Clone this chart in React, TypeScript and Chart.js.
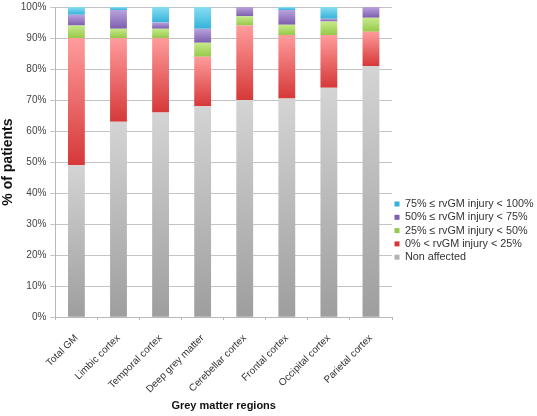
import React, { useEffect, useRef } from "react";
import { Chart, registerables } from "chart.js";

Chart.register(...registerables);

const categories = [
  "Total GM",
  "Limbic cortex",
  "Temporal cortex",
  "Deep grey matter",
  "Cerebellar cortex",
  "Frontal cortex",
  "Occipital cortex",
  "Parietal cortex",
];

const nonAffected = [49, 63, 66, 68, 70, 70.5, 74, 81];
const injury0to25 = [41, 27, 24, 16, 24, 20.5, 17, 11];
const injury25to50 = [4, 3, 3, 4.5, 3, 3.3, 4.3, 4.5];
const injury50to75 = [3.5, 6, 2, 4.5, 3, 4.7, 0.9, 3.5];
const injury75to100 = [2.5, 1, 5, 7, 0, 1, 3.8, 0];

const seriesLabels = [
  "Non affected",
  "0% < rvGM injury < 25%",
  "25% \u2264 rvGM injury < 50%",
  "50% \u2264 rvGM injury < 75%",
  "75% \u2264 rvGM injury < 100%",
];

const yTickValues = [0, 10, 20, 30, 40, 50, 60, 70, 80, 90, 100];

const seriesValues = [nonAffected, injury0to25, injury25to50, injury50to75, injury75to100];

// [top of segment, legend colour, bottom of segment]
const seriesColors = [
  ["#d4d4d4", "#a6a6a6", "#9e9e9e"],
  ["#ff9c9c", "#e04444", "#d63838"],
  ["#c6ea8a", "#a6d65a", "#96c84a"],
  ["#b9a2dd", "#8e6fbf", "#7d5dae"],
  ["#88def2", "#43bde0", "#35b2da"],
];

const FONT = "'Liberation Sans', Arial, Helvetica, sans-serif";

function makeFill(dsIndex: number) {
  return (ctx: any) => {
    const cols = seriesColors[dsIndex];
    if (ctx.type !== "data") return cols[1];
    const chart = ctx.chart;
    const y = chart.scales && chart.scales.y;
    if (!y || !chart.chartArea) return cols[1];
    const i = ctx.dataIndex;
    let start = 0;
    for (let k = 0; k < dsIndex; k++) start += seriesValues[k][i];
    const end = start + seriesValues[dsIndex][i];
    const yTop = y.getPixelForValue(end);
    const yBot = y.getPixelForValue(start);
    if (!isFinite(yTop) || !isFinite(yBot) || yTop === yBot) return cols[1];
    const g = chart.ctx.createLinearGradient(0, yTop, 0, yBot);
    g.addColorStop(0, cols[0]);
    g.addColorStop(1, cols[2]);
    return g;
  };
}

export default function App() {
  const ref = useRef<HTMLCanvasElement | null>(null);

  useEffect(() => {
    if (!ref.current) return;
    const chart = new Chart(ref.current, {
      type: "bar",
      data: {
        labels: categories,
        datasets: seriesValues.map((vals, k) => ({
          label: seriesLabels[k],
          data: vals,
          backgroundColor: makeFill(k),
          borderWidth: 0,
          barPercentage: 0.4,
          categoryPercentage: 1,
        })),
      },
      options: {
        animation: false,
        responsive: false,
        devicePixelRatio: 1,
        layout: { padding: { top: 0, right: 2, bottom: 0, left: 0 } },
        plugins: {
          tooltip: { enabled: false },
          legend: {
            position: "right",
            align: "center",
            reverse: true,
            maxWidth: 143,
            title: { display: true, text: "", font: { size: 1 }, padding: { top: 44, bottom: 0 } },
            labels: {
              boxWidth: 5,
              boxHeight: 5,
              padding: 2.5,
              color: "#333",
              font: { family: FONT, size: 10.8 },
            },
          },
        },
        scales: {
          x: {
            stacked: true,
            grid: {
              display: true,
              drawOnChartArea: false,
              drawTicks: true,
              tickLength: 3,
              offset: true,
              color: "#b8b8b8",
            },
            border: { color: "#b8b8b8" },
            ticks: {
              maxRotation: 45,
              minRotation: 45,
              padding: 12,
              color: "#333",
              font: { family: FONT, size: 10 },
            },
            title: {
              display: true,
              text: "Grey matter regions",
              color: "#111",
              font: { family: FONT, size: 11, weight: "bold" },
              padding: { top: -7.5, bottom: 3 },
            },
          },
          y: {
            stacked: true,
            min: 0,
            max: 100,
            afterBuildTicks: (axis: any) => {
              axis.ticks = yTickValues.map((v) => ({ value: v }));
            },
            grid: {
              color: "#c4c4c4",
              tickLength: 5,
            },
            border: { color: "#b8b8b8" },
            ticks: {
              padding: 4,
              color: "#444",
              font: { family: FONT, size: 10, lineHeight: 0.6 },
              callback: (v: any) => v + "%",
            },
            title: {
              display: true,
              text: "% of patients",
              color: "#111",
              font: { family: FONT, size: 14, weight: "bold" },
              padding: { top: 0, bottom: 0 },
            },
          },
        },
      },
    });
    return () => chart.destroy();
  }, []);

  return (
    <div style={{ position: "fixed", left: 0, top: 0, width: 537, height: 416, background: "#fff" }}>
      <canvas ref={ref} width={537} height={416} style={{ width: 537, height: 416, display: "block" }} />
    </div>
  );
}
